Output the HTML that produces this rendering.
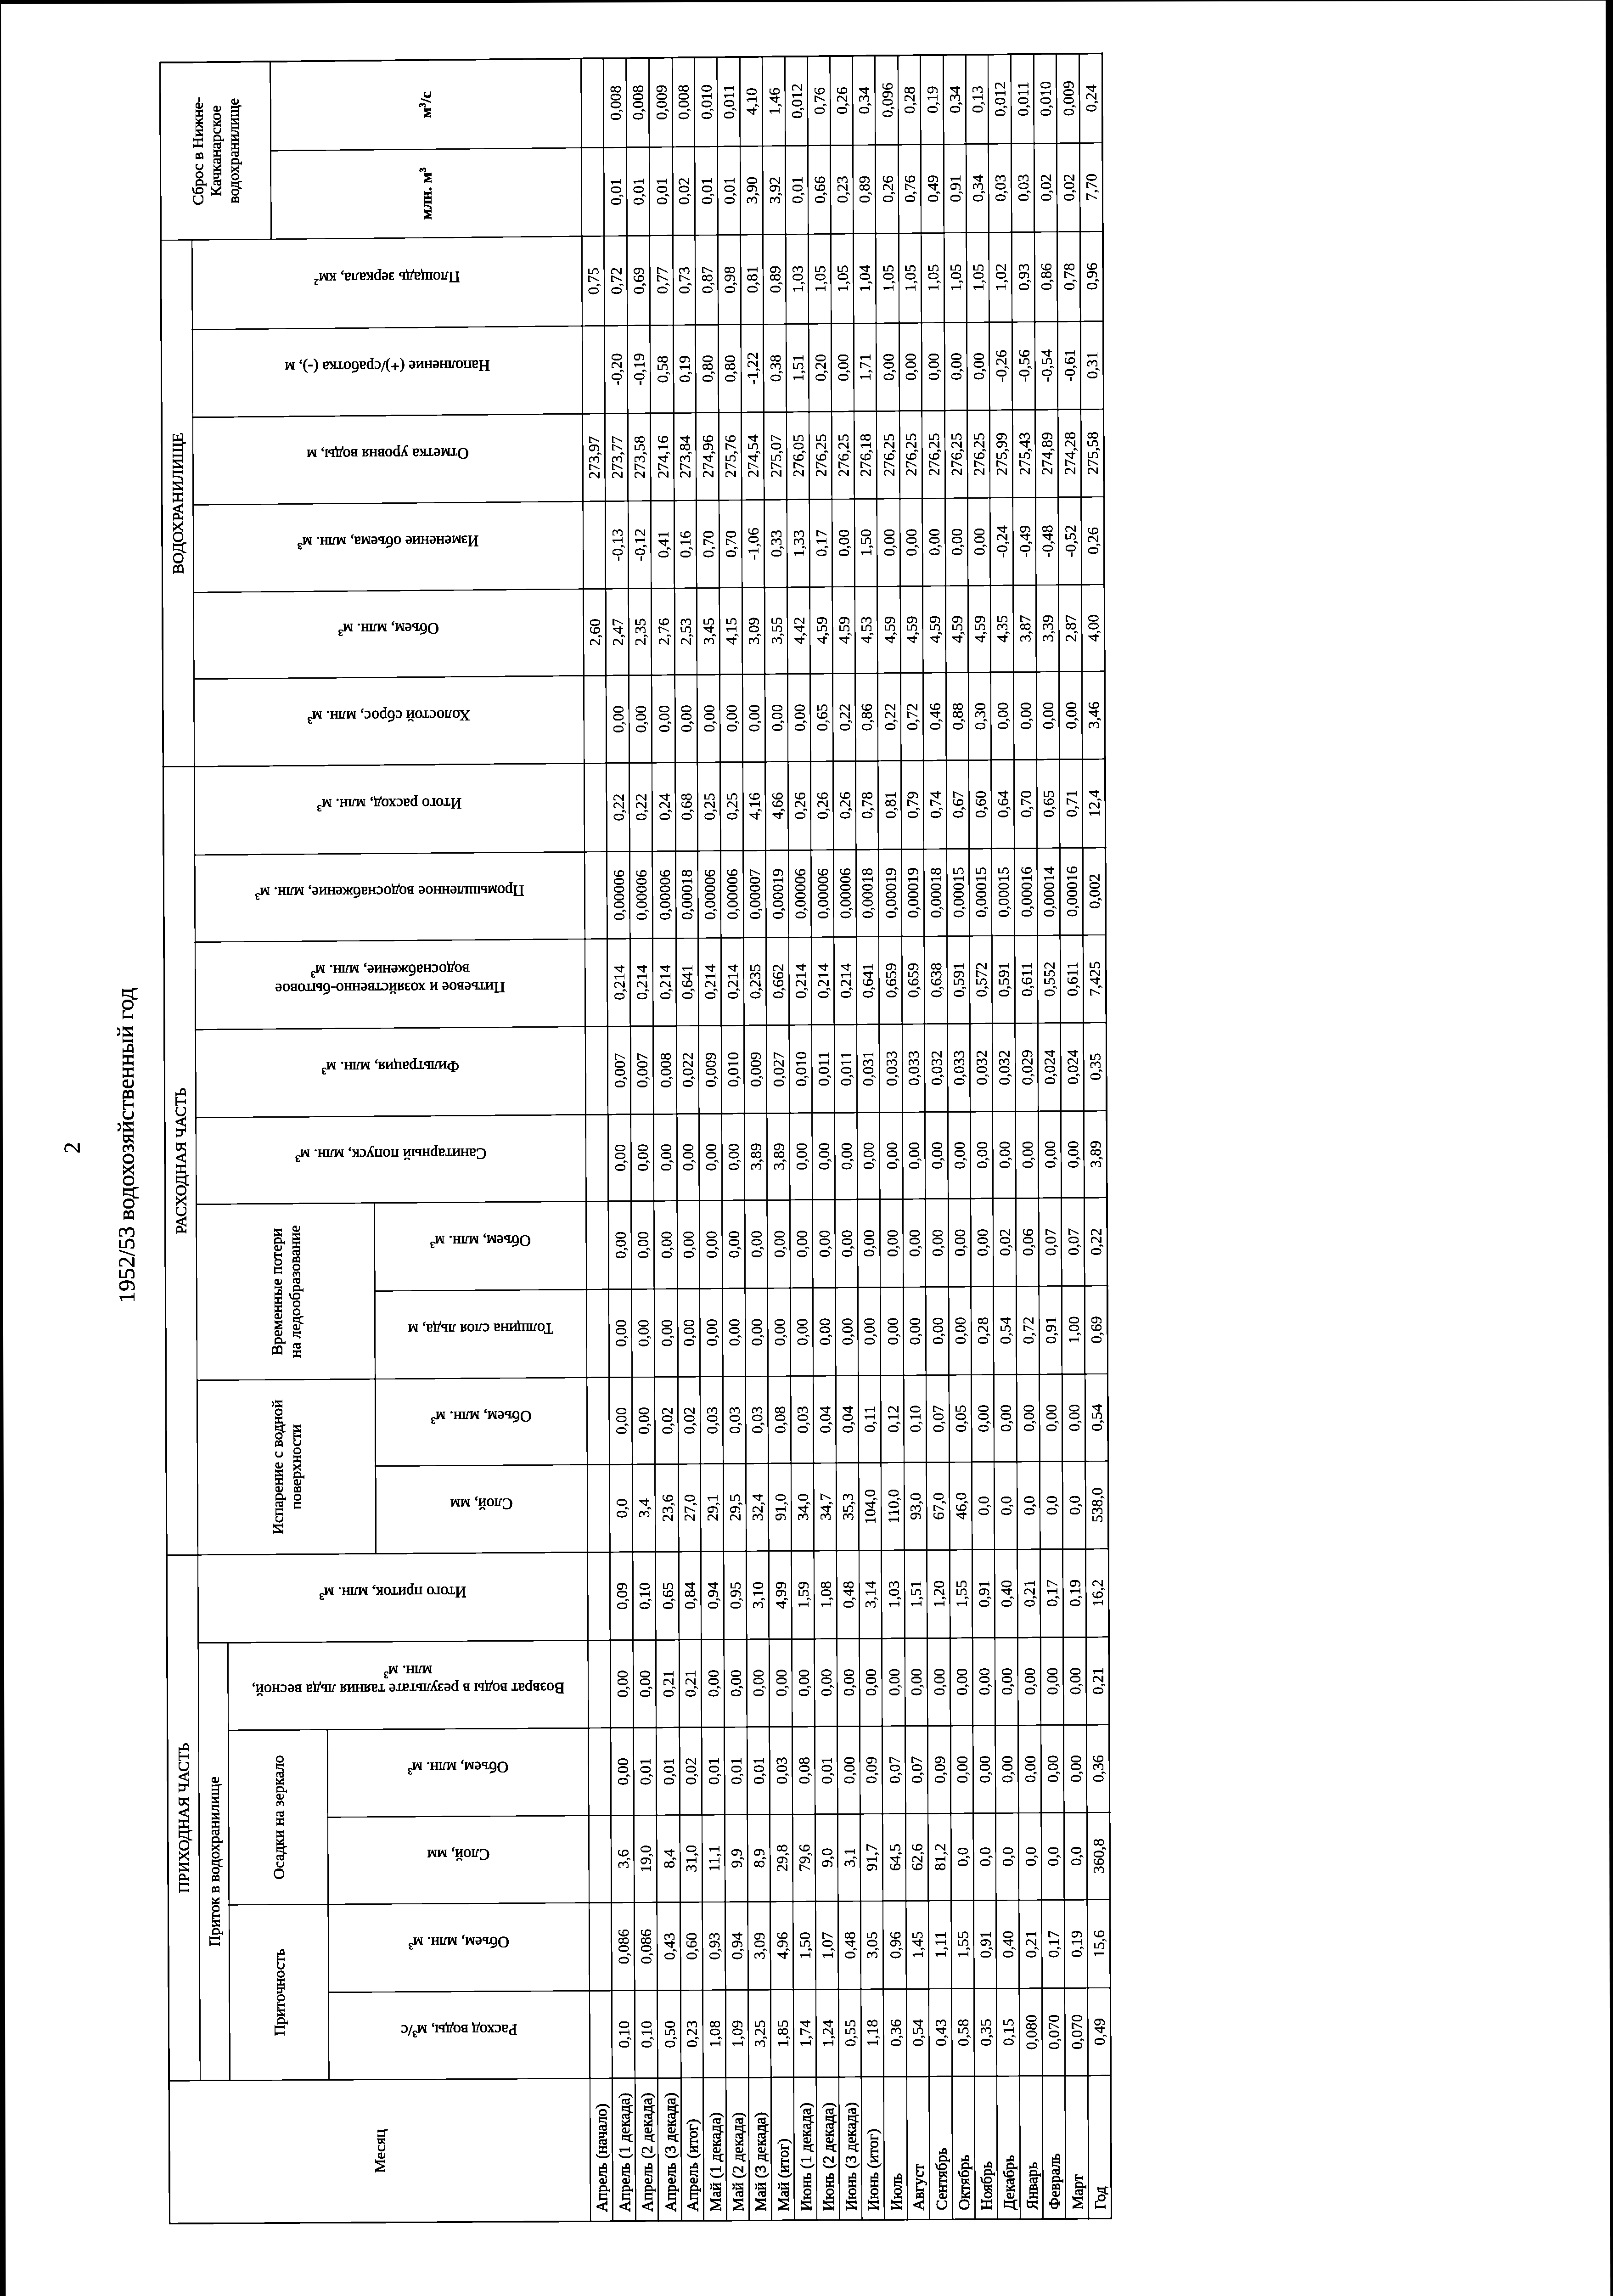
<!DOCTYPE html><html><head><meta charset="utf-8"><style>html,body{margin:0;padding:0;background:#fff;width:3513px;height:5040px;overflow:hidden;position:relative;font-family:"Liberation Serif",serif;}</style></head><body><svg width="0" height="0" style="position:absolute"><filter id="th" x="0" y="0" width="1" height="1" color-interpolation-filters="sRGB"><feComponentTransfer><feFuncA type="discrete" tableValues="0 0 0 0 0 0 0 0 1 1 1 1 1 1 1 1 1 1 1 1"/></feComponentTransfer></filter></svg><div style="position:absolute;left:0;top:0;width:3513px;height:5040px;filter:url(#th)"><svg width="5110" height="2452" viewBox="0 0 5110 2452" style="position:absolute;left:0;top:0;transform-origin:0 0;transform:matrix3d(-0.00448392221,-0.9988218256,0,-7.646596423e-08,0.9969414848,-0.009849639361,0,-9.395469201e-07,0,0,1,0,71.20453939,5043.580332,0,1)"><g fill="#000"><rect x="198.50" y="298.50" width="4713.00" height="3.00"/><rect x="198.50" y="2350.50" width="4713.00" height="3.00"/><rect x="4908.50" y="298.50" width="3.00" height="2055.00"/><rect x="198.50" y="298.50" width="3.00" height="2055.00"/><rect x="198.75" y="1216.84" width="4712.50" height="2.50"/><rect x="198.75" y="1265.35" width="4712.50" height="2.50"/><rect x="198.75" y="1315.06" width="4712.50" height="2.50"/><rect x="198.75" y="1364.57" width="4712.50" height="2.50"/><rect x="198.75" y="1415.37" width="4712.50" height="2.50"/><rect x="198.75" y="1463.56" width="4712.50" height="2.50"/><rect x="198.75" y="1513.06" width="4712.50" height="2.50"/><rect x="198.75" y="1562.54" width="4712.50" height="2.50"/><rect x="198.75" y="1611.33" width="4712.50" height="2.50"/><rect x="198.75" y="1660.81" width="4712.50" height="2.50"/><rect x="198.75" y="1709.88" width="4712.50" height="2.50"/><rect x="198.75" y="1758.95" width="4712.50" height="2.50"/><rect x="198.75" y="1807.91" width="4712.50" height="2.50"/><rect x="198.75" y="1856.67" width="4712.50" height="2.50"/><rect x="198.75" y="1906.83" width="4712.50" height="2.50"/><rect x="198.75" y="1955.58" width="4712.50" height="2.50"/><rect x="198.75" y="2005.43" width="4712.50" height="2.50"/><rect x="198.75" y="2054.07" width="4712.50" height="2.50"/><rect x="198.75" y="2102.81" width="4712.50" height="2.50"/><rect x="198.75" y="2152.54" width="4712.50" height="2.50"/><rect x="198.75" y="2201.97" width="4712.50" height="2.50"/><rect x="198.75" y="2251.39" width="4712.50" height="2.50"/><rect x="198.75" y="2301.21" width="4712.50" height="2.50"/><rect x="510.07" y="366.78" width="4014.28" height="2.50"/><rect x="4521.85" y="539.46" width="389.40" height="2.50"/><rect x="510.07" y="431.58" width="956.73" height="2.50"/><rect x="510.07" y="647.74" width="765.90" height="2.50"/><rect x="1656.13" y="755.46" width="766.75" height="2.50"/><rect x="4714.58" y="539.46" width="2.50" height="1813.79"/><rect x="4521.85" y="298.75" width="2.50" height="2054.50"/><rect x="4326.61" y="366.78" width="2.50" height="1986.47"/><rect x="4135.37" y="366.78" width="2.50" height="1986.47"/><rect x="3944.61" y="366.78" width="2.50" height="1986.47"/><rect x="3753.85" y="366.78" width="2.50" height="1986.47"/><rect x="3565.09" y="366.78" width="2.50" height="1986.47"/><rect x="3374.32" y="298.75" width="2.50" height="2054.50"/><rect x="3181.54" y="366.78" width="2.50" height="1986.47"/><rect x="2991.76" y="366.78" width="2.50" height="1986.47"/><rect x="2800.97" y="366.78" width="2.50" height="1986.47"/><rect x="2609.18" y="366.78" width="2.50" height="1986.47"/><rect x="2420.38" y="366.78" width="2.50" height="1986.47"/><rect x="2228.58" y="755.46" width="2.50" height="1597.79"/><rect x="2036.77" y="366.78" width="2.50" height="1986.47"/><rect x="1846.95" y="755.46" width="2.50" height="1597.79"/><rect x="1656.13" y="298.75" width="2.50" height="2054.50"/><rect x="1464.30" y="366.78" width="2.50" height="1986.47"/><rect x="1273.46" y="431.58" width="2.50" height="1921.67"/><rect x="1082.62" y="647.74" width="2.50" height="1705.51"/><rect x="892.78" y="431.58" width="2.50" height="1921.67"/><rect x="700.92" y="647.74" width="2.50" height="1705.51"/><rect x="510.07" y="298.75" width="2.50" height="2054.50"/></g><g fill="#000" stroke="#000" stroke-width="0.80" font-family="Liberation Serif, serif"><text x="4812.91" y="1303.81" font-size="34.0" text-anchor="middle" stroke-width="0.35">0,008</text><text x="4812.91" y="1353.32" font-size="34.0" text-anchor="middle" stroke-width="0.35">0,008</text><text x="4812.91" y="1404.12" font-size="34.0" text-anchor="middle" stroke-width="0.35">0,009</text><text x="4812.91" y="1452.31" font-size="34.0" text-anchor="middle" stroke-width="0.35">0,008</text><text x="4812.91" y="1501.81" font-size="34.0" text-anchor="middle" stroke-width="0.35">0,010</text><text x="4812.91" y="1551.29" font-size="34.0" text-anchor="middle" stroke-width="0.35">0,011</text><text x="4812.91" y="1600.08" font-size="34.0" text-anchor="middle" stroke-width="0.35">4,10</text><text x="4812.91" y="1649.56" font-size="34.0" text-anchor="middle" stroke-width="0.35">1,46</text><text x="4812.91" y="1698.63" font-size="34.0" text-anchor="middle" stroke-width="0.35">0,012</text><text x="4812.91" y="1747.70" font-size="34.0" text-anchor="middle" stroke-width="0.35">0,76</text><text x="4812.91" y="1796.66" font-size="34.0" text-anchor="middle" stroke-width="0.35">0,26</text><text x="4812.91" y="1845.42" font-size="34.0" text-anchor="middle" stroke-width="0.35">0,34</text><text x="4812.91" y="1895.58" font-size="34.0" text-anchor="middle" stroke-width="0.35">0,096</text><text x="4812.91" y="1944.33" font-size="34.0" text-anchor="middle" stroke-width="0.35">0,28</text><text x="4812.91" y="1994.18" font-size="34.0" text-anchor="middle" stroke-width="0.35">0,19</text><text x="4812.91" y="2042.82" font-size="34.0" text-anchor="middle" stroke-width="0.35">0,34</text><text x="4812.91" y="2091.56" font-size="34.0" text-anchor="middle" stroke-width="0.35">0,13</text><text x="4812.91" y="2141.29" font-size="34.0" text-anchor="middle" stroke-width="0.35">0,012</text><text x="4812.91" y="2190.72" font-size="34.0" text-anchor="middle" stroke-width="0.35">0,011</text><text x="4812.91" y="2240.14" font-size="34.0" text-anchor="middle" stroke-width="0.35">0,010</text><text x="4812.91" y="2289.96" font-size="34.0" text-anchor="middle" stroke-width="0.35">0,009</text><text x="4812.91" y="2339.50" font-size="34.0" text-anchor="middle" stroke-width="0.35">0,24</text><text x="4619.46" y="1303.81" font-size="34.0" text-anchor="middle" stroke-width="0.35">0,01</text><text x="4619.46" y="1353.32" font-size="34.0" text-anchor="middle" stroke-width="0.35">0,01</text><text x="4619.46" y="1404.12" font-size="34.0" text-anchor="middle" stroke-width="0.35">0,01</text><text x="4619.46" y="1452.31" font-size="34.0" text-anchor="middle" stroke-width="0.35">0,02</text><text x="4619.46" y="1501.81" font-size="34.0" text-anchor="middle" stroke-width="0.35">0,01</text><text x="4619.46" y="1551.29" font-size="34.0" text-anchor="middle" stroke-width="0.35">0,01</text><text x="4619.46" y="1600.08" font-size="34.0" text-anchor="middle" stroke-width="0.35">3,90</text><text x="4619.46" y="1649.56" font-size="34.0" text-anchor="middle" stroke-width="0.35">3,92</text><text x="4619.46" y="1698.63" font-size="34.0" text-anchor="middle" stroke-width="0.35">0,01</text><text x="4619.46" y="1747.70" font-size="34.0" text-anchor="middle" stroke-width="0.35">0,66</text><text x="4619.46" y="1796.66" font-size="34.0" text-anchor="middle" stroke-width="0.35">0,23</text><text x="4619.46" y="1845.42" font-size="34.0" text-anchor="middle" stroke-width="0.35">0,89</text><text x="4619.46" y="1895.58" font-size="34.0" text-anchor="middle" stroke-width="0.35">0,26</text><text x="4619.46" y="1944.33" font-size="34.0" text-anchor="middle" stroke-width="0.35">0,76</text><text x="4619.46" y="1994.18" font-size="34.0" text-anchor="middle" stroke-width="0.35">0,49</text><text x="4619.46" y="2042.82" font-size="34.0" text-anchor="middle" stroke-width="0.35">0,91</text><text x="4619.46" y="2091.56" font-size="34.0" text-anchor="middle" stroke-width="0.35">0,34</text><text x="4619.46" y="2141.29" font-size="34.0" text-anchor="middle" stroke-width="0.35">0,03</text><text x="4619.46" y="2190.72" font-size="34.0" text-anchor="middle" stroke-width="0.35">0,03</text><text x="4619.46" y="2240.14" font-size="34.0" text-anchor="middle" stroke-width="0.35">0,02</text><text x="4619.46" y="2289.96" font-size="34.0" text-anchor="middle" stroke-width="0.35">0,02</text><text x="4619.46" y="2339.50" font-size="34.0" text-anchor="middle" stroke-width="0.35">7,70</text><text x="4425.48" y="1254.10" font-size="34.0" text-anchor="middle" stroke-width="0.35">0,75</text><text x="4425.48" y="1303.81" font-size="34.0" text-anchor="middle" stroke-width="0.35">0,72</text><text x="4425.48" y="1353.32" font-size="34.0" text-anchor="middle" stroke-width="0.35">0,69</text><text x="4425.48" y="1404.12" font-size="34.0" text-anchor="middle" stroke-width="0.35">0,77</text><text x="4425.48" y="1452.31" font-size="34.0" text-anchor="middle" stroke-width="0.35">0,73</text><text x="4425.48" y="1501.81" font-size="34.0" text-anchor="middle" stroke-width="0.35">0,87</text><text x="4425.48" y="1551.29" font-size="34.0" text-anchor="middle" stroke-width="0.35">0,98</text><text x="4425.48" y="1600.08" font-size="34.0" text-anchor="middle" stroke-width="0.35">0,81</text><text x="4425.48" y="1649.56" font-size="34.0" text-anchor="middle" stroke-width="0.35">0,89</text><text x="4425.48" y="1698.63" font-size="34.0" text-anchor="middle" stroke-width="0.35">1,03</text><text x="4425.48" y="1747.70" font-size="34.0" text-anchor="middle" stroke-width="0.35">1,05</text><text x="4425.48" y="1796.66" font-size="34.0" text-anchor="middle" stroke-width="0.35">1,05</text><text x="4425.48" y="1845.42" font-size="34.0" text-anchor="middle" stroke-width="0.35">1,04</text><text x="4425.48" y="1895.58" font-size="34.0" text-anchor="middle" stroke-width="0.35">1,05</text><text x="4425.48" y="1944.33" font-size="34.0" text-anchor="middle" stroke-width="0.35">1,05</text><text x="4425.48" y="1994.18" font-size="34.0" text-anchor="middle" stroke-width="0.35">1,05</text><text x="4425.48" y="2042.82" font-size="34.0" text-anchor="middle" stroke-width="0.35">1,05</text><text x="4425.48" y="2091.56" font-size="34.0" text-anchor="middle" stroke-width="0.35">1,05</text><text x="4425.48" y="2141.29" font-size="34.0" text-anchor="middle" stroke-width="0.35">1,02</text><text x="4425.48" y="2190.72" font-size="34.0" text-anchor="middle" stroke-width="0.35">0,93</text><text x="4425.48" y="2240.14" font-size="34.0" text-anchor="middle" stroke-width="0.35">0,86</text><text x="4425.48" y="2289.96" font-size="34.0" text-anchor="middle" stroke-width="0.35">0,78</text><text x="4425.48" y="2339.50" font-size="34.0" text-anchor="middle" stroke-width="0.35">0,96</text><text x="4232.24" y="1303.81" font-size="34.0" text-anchor="middle" stroke-width="0.35">-0,20</text><text x="4232.24" y="1353.32" font-size="34.0" text-anchor="middle" stroke-width="0.35">-0,19</text><text x="4232.24" y="1404.12" font-size="34.0" text-anchor="middle" stroke-width="0.35">0,58</text><text x="4232.24" y="1452.31" font-size="34.0" text-anchor="middle" stroke-width="0.35">0,19</text><text x="4232.24" y="1501.81" font-size="34.0" text-anchor="middle" stroke-width="0.35">0,80</text><text x="4232.24" y="1551.29" font-size="34.0" text-anchor="middle" stroke-width="0.35">0,80</text><text x="4232.24" y="1600.08" font-size="34.0" text-anchor="middle" stroke-width="0.35">-1,22</text><text x="4232.24" y="1649.56" font-size="34.0" text-anchor="middle" stroke-width="0.35">0,38</text><text x="4232.24" y="1698.63" font-size="34.0" text-anchor="middle" stroke-width="0.35">1,51</text><text x="4232.24" y="1747.70" font-size="34.0" text-anchor="middle" stroke-width="0.35">0,20</text><text x="4232.24" y="1796.66" font-size="34.0" text-anchor="middle" stroke-width="0.35">0,00</text><text x="4232.24" y="1845.42" font-size="34.0" text-anchor="middle" stroke-width="0.35">1,71</text><text x="4232.24" y="1895.58" font-size="34.0" text-anchor="middle" stroke-width="0.35">0,00</text><text x="4232.24" y="1944.33" font-size="34.0" text-anchor="middle" stroke-width="0.35">0,00</text><text x="4232.24" y="1994.18" font-size="34.0" text-anchor="middle" stroke-width="0.35">0,00</text><text x="4232.24" y="2042.82" font-size="34.0" text-anchor="middle" stroke-width="0.35">0,00</text><text x="4232.24" y="2091.56" font-size="34.0" text-anchor="middle" stroke-width="0.35">0,00</text><text x="4232.24" y="2141.29" font-size="34.0" text-anchor="middle" stroke-width="0.35">-0,26</text><text x="4232.24" y="2190.72" font-size="34.0" text-anchor="middle" stroke-width="0.35">-0,56</text><text x="4232.24" y="2240.14" font-size="34.0" text-anchor="middle" stroke-width="0.35">-0,54</text><text x="4232.24" y="2289.96" font-size="34.0" text-anchor="middle" stroke-width="0.35">-0,61</text><text x="4232.24" y="2339.50" font-size="34.0" text-anchor="middle" stroke-width="0.35">0,31</text><text x="4041.24" y="1254.10" font-size="34.0" text-anchor="middle" stroke-width="0.35">273,97</text><text x="4041.24" y="1303.81" font-size="34.0" text-anchor="middle" stroke-width="0.35">273,77</text><text x="4041.24" y="1353.32" font-size="34.0" text-anchor="middle" stroke-width="0.35">273,58</text><text x="4041.24" y="1404.12" font-size="34.0" text-anchor="middle" stroke-width="0.35">274,16</text><text x="4041.24" y="1452.31" font-size="34.0" text-anchor="middle" stroke-width="0.35">273,84</text><text x="4041.24" y="1501.81" font-size="34.0" text-anchor="middle" stroke-width="0.35">274,96</text><text x="4041.24" y="1551.29" font-size="34.0" text-anchor="middle" stroke-width="0.35">275,76</text><text x="4041.24" y="1600.08" font-size="34.0" text-anchor="middle" stroke-width="0.35">274,54</text><text x="4041.24" y="1649.56" font-size="34.0" text-anchor="middle" stroke-width="0.35">275,07</text><text x="4041.24" y="1698.63" font-size="34.0" text-anchor="middle" stroke-width="0.35">276,05</text><text x="4041.24" y="1747.70" font-size="34.0" text-anchor="middle" stroke-width="0.35">276,25</text><text x="4041.24" y="1796.66" font-size="34.0" text-anchor="middle" stroke-width="0.35">276,25</text><text x="4041.24" y="1845.42" font-size="34.0" text-anchor="middle" stroke-width="0.35">276,18</text><text x="4041.24" y="1895.58" font-size="34.0" text-anchor="middle" stroke-width="0.35">276,25</text><text x="4041.24" y="1944.33" font-size="34.0" text-anchor="middle" stroke-width="0.35">276,25</text><text x="4041.24" y="1994.18" font-size="34.0" text-anchor="middle" stroke-width="0.35">276,25</text><text x="4041.24" y="2042.82" font-size="34.0" text-anchor="middle" stroke-width="0.35">276,25</text><text x="4041.24" y="2091.56" font-size="34.0" text-anchor="middle" stroke-width="0.35">276,25</text><text x="4041.24" y="2141.29" font-size="34.0" text-anchor="middle" stroke-width="0.35">275,99</text><text x="4041.24" y="2190.72" font-size="34.0" text-anchor="middle" stroke-width="0.35">275,43</text><text x="4041.24" y="2240.14" font-size="34.0" text-anchor="middle" stroke-width="0.35">274,89</text><text x="4041.24" y="2289.96" font-size="34.0" text-anchor="middle" stroke-width="0.35">274,28</text><text x="4041.24" y="2339.50" font-size="34.0" text-anchor="middle" stroke-width="0.35">275,58</text><text x="3850.48" y="1303.81" font-size="34.0" text-anchor="middle" stroke-width="0.35">-0,13</text><text x="3850.48" y="1353.32" font-size="34.0" text-anchor="middle" stroke-width="0.35">-0,12</text><text x="3850.48" y="1404.12" font-size="34.0" text-anchor="middle" stroke-width="0.35">0,41</text><text x="3850.48" y="1452.31" font-size="34.0" text-anchor="middle" stroke-width="0.35">0,16</text><text x="3850.48" y="1501.81" font-size="34.0" text-anchor="middle" stroke-width="0.35">0,70</text><text x="3850.48" y="1551.29" font-size="34.0" text-anchor="middle" stroke-width="0.35">0,70</text><text x="3850.48" y="1600.08" font-size="34.0" text-anchor="middle" stroke-width="0.35">-1,06</text><text x="3850.48" y="1649.56" font-size="34.0" text-anchor="middle" stroke-width="0.35">0,33</text><text x="3850.48" y="1698.63" font-size="34.0" text-anchor="middle" stroke-width="0.35">1,33</text><text x="3850.48" y="1747.70" font-size="34.0" text-anchor="middle" stroke-width="0.35">0,17</text><text x="3850.48" y="1796.66" font-size="34.0" text-anchor="middle" stroke-width="0.35">0,00</text><text x="3850.48" y="1845.42" font-size="34.0" text-anchor="middle" stroke-width="0.35">1,50</text><text x="3850.48" y="1895.58" font-size="34.0" text-anchor="middle" stroke-width="0.35">0,00</text><text x="3850.48" y="1944.33" font-size="34.0" text-anchor="middle" stroke-width="0.35">0,00</text><text x="3850.48" y="1994.18" font-size="34.0" text-anchor="middle" stroke-width="0.35">0,00</text><text x="3850.48" y="2042.82" font-size="34.0" text-anchor="middle" stroke-width="0.35">0,00</text><text x="3850.48" y="2091.56" font-size="34.0" text-anchor="middle" stroke-width="0.35">0,00</text><text x="3850.48" y="2141.29" font-size="34.0" text-anchor="middle" stroke-width="0.35">-0,24</text><text x="3850.48" y="2190.72" font-size="34.0" text-anchor="middle" stroke-width="0.35">-0,49</text><text x="3850.48" y="2240.14" font-size="34.0" text-anchor="middle" stroke-width="0.35">-0,48</text><text x="3850.48" y="2289.96" font-size="34.0" text-anchor="middle" stroke-width="0.35">-0,52</text><text x="3850.48" y="2339.50" font-size="34.0" text-anchor="middle" stroke-width="0.35">0,26</text><text x="3660.72" y="1254.10" font-size="34.0" text-anchor="middle" stroke-width="0.35">2,60</text><text x="3660.72" y="1303.81" font-size="34.0" text-anchor="middle" stroke-width="0.35">2,47</text><text x="3660.72" y="1353.32" font-size="34.0" text-anchor="middle" stroke-width="0.35">2,35</text><text x="3660.72" y="1404.12" font-size="34.0" text-anchor="middle" stroke-width="0.35">2,76</text><text x="3660.72" y="1452.31" font-size="34.0" text-anchor="middle" stroke-width="0.35">2,53</text><text x="3660.72" y="1501.81" font-size="34.0" text-anchor="middle" stroke-width="0.35">3,45</text><text x="3660.72" y="1551.29" font-size="34.0" text-anchor="middle" stroke-width="0.35">4,15</text><text x="3660.72" y="1600.08" font-size="34.0" text-anchor="middle" stroke-width="0.35">3,09</text><text x="3660.72" y="1649.56" font-size="34.0" text-anchor="middle" stroke-width="0.35">3,55</text><text x="3660.72" y="1698.63" font-size="34.0" text-anchor="middle" stroke-width="0.35">4,42</text><text x="3660.72" y="1747.70" font-size="34.0" text-anchor="middle" stroke-width="0.35">4,59</text><text x="3660.72" y="1796.66" font-size="34.0" text-anchor="middle" stroke-width="0.35">4,59</text><text x="3660.72" y="1845.42" font-size="34.0" text-anchor="middle" stroke-width="0.35">4,53</text><text x="3660.72" y="1895.58" font-size="34.0" text-anchor="middle" stroke-width="0.35">4,59</text><text x="3660.72" y="1944.33" font-size="34.0" text-anchor="middle" stroke-width="0.35">4,59</text><text x="3660.72" y="1994.18" font-size="34.0" text-anchor="middle" stroke-width="0.35">4,59</text><text x="3660.72" y="2042.82" font-size="34.0" text-anchor="middle" stroke-width="0.35">4,59</text><text x="3660.72" y="2091.56" font-size="34.0" text-anchor="middle" stroke-width="0.35">4,59</text><text x="3660.72" y="2141.29" font-size="34.0" text-anchor="middle" stroke-width="0.35">4,35</text><text x="3660.72" y="2190.72" font-size="34.0" text-anchor="middle" stroke-width="0.35">3,87</text><text x="3660.72" y="2240.14" font-size="34.0" text-anchor="middle" stroke-width="0.35">3,39</text><text x="3660.72" y="2289.96" font-size="34.0" text-anchor="middle" stroke-width="0.35">2,87</text><text x="3660.72" y="2339.50" font-size="34.0" text-anchor="middle" stroke-width="0.35">4,00</text><text x="3470.95" y="1303.81" font-size="34.0" text-anchor="middle" stroke-width="0.35">0,00</text><text x="3470.95" y="1353.32" font-size="34.0" text-anchor="middle" stroke-width="0.35">0,00</text><text x="3470.95" y="1404.12" font-size="34.0" text-anchor="middle" stroke-width="0.35">0,00</text><text x="3470.95" y="1452.31" font-size="34.0" text-anchor="middle" stroke-width="0.35">0,00</text><text x="3470.95" y="1501.81" font-size="34.0" text-anchor="middle" stroke-width="0.35">0,00</text><text x="3470.95" y="1551.29" font-size="34.0" text-anchor="middle" stroke-width="0.35">0,00</text><text x="3470.95" y="1600.08" font-size="34.0" text-anchor="middle" stroke-width="0.35">0,00</text><text x="3470.95" y="1649.56" font-size="34.0" text-anchor="middle" stroke-width="0.35">0,00</text><text x="3470.95" y="1698.63" font-size="34.0" text-anchor="middle" stroke-width="0.35">0,00</text><text x="3470.95" y="1747.70" font-size="34.0" text-anchor="middle" stroke-width="0.35">0,65</text><text x="3470.95" y="1796.66" font-size="34.0" text-anchor="middle" stroke-width="0.35">0,22</text><text x="3470.95" y="1845.42" font-size="34.0" text-anchor="middle" stroke-width="0.35">0,86</text><text x="3470.95" y="1895.58" font-size="34.0" text-anchor="middle" stroke-width="0.35">0,22</text><text x="3470.95" y="1944.33" font-size="34.0" text-anchor="middle" stroke-width="0.35">0,72</text><text x="3470.95" y="1994.18" font-size="34.0" text-anchor="middle" stroke-width="0.35">0,46</text><text x="3470.95" y="2042.82" font-size="34.0" text-anchor="middle" stroke-width="0.35">0,88</text><text x="3470.95" y="2091.56" font-size="34.0" text-anchor="middle" stroke-width="0.35">0,30</text><text x="3470.95" y="2141.29" font-size="34.0" text-anchor="middle" stroke-width="0.35">0,00</text><text x="3470.95" y="2190.72" font-size="34.0" text-anchor="middle" stroke-width="0.35">0,00</text><text x="3470.95" y="2240.14" font-size="34.0" text-anchor="middle" stroke-width="0.35">0,00</text><text x="3470.95" y="2289.96" font-size="34.0" text-anchor="middle" stroke-width="0.35">0,00</text><text x="3470.95" y="2339.50" font-size="34.0" text-anchor="middle" stroke-width="0.35">3,46</text><text x="3279.18" y="1303.81" font-size="34.0" text-anchor="middle" stroke-width="0.35">0,22</text><text x="3279.18" y="1353.32" font-size="34.0" text-anchor="middle" stroke-width="0.35">0,22</text><text x="3279.18" y="1404.12" font-size="34.0" text-anchor="middle" stroke-width="0.35">0,24</text><text x="3279.18" y="1452.31" font-size="34.0" text-anchor="middle" stroke-width="0.35">0,68</text><text x="3279.18" y="1501.81" font-size="34.0" text-anchor="middle" stroke-width="0.35">0,25</text><text x="3279.18" y="1551.29" font-size="34.0" text-anchor="middle" stroke-width="0.35">0,25</text><text x="3279.18" y="1600.08" font-size="34.0" text-anchor="middle" stroke-width="0.35">4,16</text><text x="3279.18" y="1649.56" font-size="34.0" text-anchor="middle" stroke-width="0.35">4,66</text><text x="3279.18" y="1698.63" font-size="34.0" text-anchor="middle" stroke-width="0.35">0,26</text><text x="3279.18" y="1747.70" font-size="34.0" text-anchor="middle" stroke-width="0.35">0,26</text><text x="3279.18" y="1796.66" font-size="34.0" text-anchor="middle" stroke-width="0.35">0,26</text><text x="3279.18" y="1845.42" font-size="34.0" text-anchor="middle" stroke-width="0.35">0,78</text><text x="3279.18" y="1895.58" font-size="34.0" text-anchor="middle" stroke-width="0.35">0,81</text><text x="3279.18" y="1944.33" font-size="34.0" text-anchor="middle" stroke-width="0.35">0,79</text><text x="3279.18" y="1994.18" font-size="34.0" text-anchor="middle" stroke-width="0.35">0,74</text><text x="3279.18" y="2042.82" font-size="34.0" text-anchor="middle" stroke-width="0.35">0,67</text><text x="3279.18" y="2091.56" font-size="34.0" text-anchor="middle" stroke-width="0.35">0,60</text><text x="3279.18" y="2141.29" font-size="34.0" text-anchor="middle" stroke-width="0.35">0,64</text><text x="3279.18" y="2190.72" font-size="34.0" text-anchor="middle" stroke-width="0.35">0,70</text><text x="3279.18" y="2240.14" font-size="34.0" text-anchor="middle" stroke-width="0.35">0,65</text><text x="3279.18" y="2289.96" font-size="34.0" text-anchor="middle" stroke-width="0.35">0,71</text><text x="3279.18" y="2339.50" font-size="34.0" text-anchor="middle" stroke-width="0.35">12,4</text><text x="3087.90" y="1303.81" font-size="34.0" text-anchor="middle" stroke-width="0.35">0,00006</text><text x="3087.90" y="1353.32" font-size="34.0" text-anchor="middle" stroke-width="0.35">0,00006</text><text x="3087.90" y="1404.12" font-size="34.0" text-anchor="middle" stroke-width="0.35">0,00006</text><text x="3087.90" y="1452.31" font-size="34.0" text-anchor="middle" stroke-width="0.35">0,00018</text><text x="3087.90" y="1501.81" font-size="34.0" text-anchor="middle" stroke-width="0.35">0,00006</text><text x="3087.90" y="1551.29" font-size="34.0" text-anchor="middle" stroke-width="0.35">0,00006</text><text x="3087.90" y="1600.08" font-size="34.0" text-anchor="middle" stroke-width="0.35">0,00007</text><text x="3087.90" y="1649.56" font-size="34.0" text-anchor="middle" stroke-width="0.35">0,00019</text><text x="3087.90" y="1698.63" font-size="34.0" text-anchor="middle" stroke-width="0.35">0,00006</text><text x="3087.90" y="1747.70" font-size="34.0" text-anchor="middle" stroke-width="0.35">0,00006</text><text x="3087.90" y="1796.66" font-size="34.0" text-anchor="middle" stroke-width="0.35">0,00006</text><text x="3087.90" y="1845.42" font-size="34.0" text-anchor="middle" stroke-width="0.35">0,00018</text><text x="3087.90" y="1895.58" font-size="34.0" text-anchor="middle" stroke-width="0.35">0,00019</text><text x="3087.90" y="1944.33" font-size="34.0" text-anchor="middle" stroke-width="0.35">0,00019</text><text x="3087.90" y="1994.18" font-size="34.0" text-anchor="middle" stroke-width="0.35">0,00018</text><text x="3087.90" y="2042.82" font-size="34.0" text-anchor="middle" stroke-width="0.35">0,00015</text><text x="3087.90" y="2091.56" font-size="34.0" text-anchor="middle" stroke-width="0.35">0,00015</text><text x="3087.90" y="2141.29" font-size="34.0" text-anchor="middle" stroke-width="0.35">0,00015</text><text x="3087.90" y="2190.72" font-size="34.0" text-anchor="middle" stroke-width="0.35">0,00016</text><text x="3087.90" y="2240.14" font-size="34.0" text-anchor="middle" stroke-width="0.35">0,00014</text><text x="3087.90" y="2289.96" font-size="34.0" text-anchor="middle" stroke-width="0.35">0,00016</text><text x="3087.90" y="2339.50" font-size="34.0" text-anchor="middle" stroke-width="0.35">0,002</text><text x="2897.62" y="1303.81" font-size="34.0" text-anchor="middle" stroke-width="0.35">0,214</text><text x="2897.62" y="1353.32" font-size="34.0" text-anchor="middle" stroke-width="0.35">0,214</text><text x="2897.62" y="1404.12" font-size="34.0" text-anchor="middle" stroke-width="0.35">0,214</text><text x="2897.62" y="1452.31" font-size="34.0" text-anchor="middle" stroke-width="0.35">0,641</text><text x="2897.62" y="1501.81" font-size="34.0" text-anchor="middle" stroke-width="0.35">0,214</text><text x="2897.62" y="1551.29" font-size="34.0" text-anchor="middle" stroke-width="0.35">0,214</text><text x="2897.62" y="1600.08" font-size="34.0" text-anchor="middle" stroke-width="0.35">0,235</text><text x="2897.62" y="1649.56" font-size="34.0" text-anchor="middle" stroke-width="0.35">0,662</text><text x="2897.62" y="1698.63" font-size="34.0" text-anchor="middle" stroke-width="0.35">0,214</text><text x="2897.62" y="1747.70" font-size="34.0" text-anchor="middle" stroke-width="0.35">0,214</text><text x="2897.62" y="1796.66" font-size="34.0" text-anchor="middle" stroke-width="0.35">0,214</text><text x="2897.62" y="1845.42" font-size="34.0" text-anchor="middle" stroke-width="0.35">0,641</text><text x="2897.62" y="1895.58" font-size="34.0" text-anchor="middle" stroke-width="0.35">0,659</text><text x="2897.62" y="1944.33" font-size="34.0" text-anchor="middle" stroke-width="0.35">0,659</text><text x="2897.62" y="1994.18" font-size="34.0" text-anchor="middle" stroke-width="0.35">0,638</text><text x="2897.62" y="2042.82" font-size="34.0" text-anchor="middle" stroke-width="0.35">0,591</text><text x="2897.62" y="2091.56" font-size="34.0" text-anchor="middle" stroke-width="0.35">0,572</text><text x="2897.62" y="2141.29" font-size="34.0" text-anchor="middle" stroke-width="0.35">0,591</text><text x="2897.62" y="2190.72" font-size="34.0" text-anchor="middle" stroke-width="0.35">0,611</text><text x="2897.62" y="2240.14" font-size="34.0" text-anchor="middle" stroke-width="0.35">0,552</text><text x="2897.62" y="2289.96" font-size="34.0" text-anchor="middle" stroke-width="0.35">0,611</text><text x="2897.62" y="2339.50" font-size="34.0" text-anchor="middle" stroke-width="0.35">7,425</text><text x="2706.33" y="1303.81" font-size="34.0" text-anchor="middle" stroke-width="0.35">0,007</text><text x="2706.33" y="1353.32" font-size="34.0" text-anchor="middle" stroke-width="0.35">0,007</text><text x="2706.33" y="1404.12" font-size="34.0" text-anchor="middle" stroke-width="0.35">0,008</text><text x="2706.33" y="1452.31" font-size="34.0" text-anchor="middle" stroke-width="0.35">0,022</text><text x="2706.33" y="1501.81" font-size="34.0" text-anchor="middle" stroke-width="0.35">0,009</text><text x="2706.33" y="1551.29" font-size="34.0" text-anchor="middle" stroke-width="0.35">0,010</text><text x="2706.33" y="1600.08" font-size="34.0" text-anchor="middle" stroke-width="0.35">0,009</text><text x="2706.33" y="1649.56" font-size="34.0" text-anchor="middle" stroke-width="0.35">0,027</text><text x="2706.33" y="1698.63" font-size="34.0" text-anchor="middle" stroke-width="0.35">0,010</text><text x="2706.33" y="1747.70" font-size="34.0" text-anchor="middle" stroke-width="0.35">0,011</text><text x="2706.33" y="1796.66" font-size="34.0" text-anchor="middle" stroke-width="0.35">0,011</text><text x="2706.33" y="1845.42" font-size="34.0" text-anchor="middle" stroke-width="0.35">0,031</text><text x="2706.33" y="1895.58" font-size="34.0" text-anchor="middle" stroke-width="0.35">0,033</text><text x="2706.33" y="1944.33" font-size="34.0" text-anchor="middle" stroke-width="0.35">0,033</text><text x="2706.33" y="1994.18" font-size="34.0" text-anchor="middle" stroke-width="0.35">0,032</text><text x="2706.33" y="2042.82" font-size="34.0" text-anchor="middle" stroke-width="0.35">0,033</text><text x="2706.33" y="2091.56" font-size="34.0" text-anchor="middle" stroke-width="0.35">0,032</text><text x="2706.33" y="2141.29" font-size="34.0" text-anchor="middle" stroke-width="0.35">0,032</text><text x="2706.33" y="2190.72" font-size="34.0" text-anchor="middle" stroke-width="0.35">0,029</text><text x="2706.33" y="2240.14" font-size="34.0" text-anchor="middle" stroke-width="0.35">0,024</text><text x="2706.33" y="2289.96" font-size="34.0" text-anchor="middle" stroke-width="0.35">0,024</text><text x="2706.33" y="2339.50" font-size="34.0" text-anchor="middle" stroke-width="0.35">0,35</text><text x="2516.03" y="1303.81" font-size="34.0" text-anchor="middle" stroke-width="0.35">0,00</text><text x="2516.03" y="1353.32" font-size="34.0" text-anchor="middle" stroke-width="0.35">0,00</text><text x="2516.03" y="1404.12" font-size="34.0" text-anchor="middle" stroke-width="0.35">0,00</text><text x="2516.03" y="1452.31" font-size="34.0" text-anchor="middle" stroke-width="0.35">0,00</text><text x="2516.03" y="1501.81" font-size="34.0" text-anchor="middle" stroke-width="0.35">0,00</text><text x="2516.03" y="1551.29" font-size="34.0" text-anchor="middle" stroke-width="0.35">0,00</text><text x="2516.03" y="1600.08" font-size="34.0" text-anchor="middle" stroke-width="0.35">3,89</text><text x="2516.03" y="1649.56" font-size="34.0" text-anchor="middle" stroke-width="0.35">3,89</text><text x="2516.03" y="1698.63" font-size="34.0" text-anchor="middle" stroke-width="0.35">0,00</text><text x="2516.03" y="1747.70" font-size="34.0" text-anchor="middle" stroke-width="0.35">0,00</text><text x="2516.03" y="1796.66" font-size="34.0" text-anchor="middle" stroke-width="0.35">0,00</text><text x="2516.03" y="1845.42" font-size="34.0" text-anchor="middle" stroke-width="0.35">0,00</text><text x="2516.03" y="1895.58" font-size="34.0" text-anchor="middle" stroke-width="0.35">0,00</text><text x="2516.03" y="1944.33" font-size="34.0" text-anchor="middle" stroke-width="0.35">0,00</text><text x="2516.03" y="1994.18" font-size="34.0" text-anchor="middle" stroke-width="0.35">0,00</text><text x="2516.03" y="2042.82" font-size="34.0" text-anchor="middle" stroke-width="0.35">0,00</text><text x="2516.03" y="2091.56" font-size="34.0" text-anchor="middle" stroke-width="0.35">0,00</text><text x="2516.03" y="2141.29" font-size="34.0" text-anchor="middle" stroke-width="0.35">0,00</text><text x="2516.03" y="2190.72" font-size="34.0" text-anchor="middle" stroke-width="0.35">0,00</text><text x="2516.03" y="2240.14" font-size="34.0" text-anchor="middle" stroke-width="0.35">0,00</text><text x="2516.03" y="2289.96" font-size="34.0" text-anchor="middle" stroke-width="0.35">0,00</text><text x="2516.03" y="2339.50" font-size="34.0" text-anchor="middle" stroke-width="0.35">3,89</text><text x="2325.73" y="1303.81" font-size="34.0" text-anchor="middle" stroke-width="0.35">0,00</text><text x="2325.73" y="1353.32" font-size="34.0" text-anchor="middle" stroke-width="0.35">0,00</text><text x="2325.73" y="1404.12" font-size="34.0" text-anchor="middle" stroke-width="0.35">0,00</text><text x="2325.73" y="1452.31" font-size="34.0" text-anchor="middle" stroke-width="0.35">0,00</text><text x="2325.73" y="1501.81" font-size="34.0" text-anchor="middle" stroke-width="0.35">0,00</text><text x="2325.73" y="1551.29" font-size="34.0" text-anchor="middle" stroke-width="0.35">0,00</text><text x="2325.73" y="1600.08" font-size="34.0" text-anchor="middle" stroke-width="0.35">0,00</text><text x="2325.73" y="1649.56" font-size="34.0" text-anchor="middle" stroke-width="0.35">0,00</text><text x="2325.73" y="1698.63" font-size="34.0" text-anchor="middle" stroke-width="0.35">0,00</text><text x="2325.73" y="1747.70" font-size="34.0" text-anchor="middle" stroke-width="0.35">0,00</text><text x="2325.73" y="1796.66" font-size="34.0" text-anchor="middle" stroke-width="0.35">0,00</text><text x="2325.73" y="1845.42" font-size="34.0" text-anchor="middle" stroke-width="0.35">0,00</text><text x="2325.73" y="1895.58" font-size="34.0" text-anchor="middle" stroke-width="0.35">0,00</text><text x="2325.73" y="1944.33" font-size="34.0" text-anchor="middle" stroke-width="0.35">0,00</text><text x="2325.73" y="1994.18" font-size="34.0" text-anchor="middle" stroke-width="0.35">0,00</text><text x="2325.73" y="2042.82" font-size="34.0" text-anchor="middle" stroke-width="0.35">0,00</text><text x="2325.73" y="2091.56" font-size="34.0" text-anchor="middle" stroke-width="0.35">0,00</text><text x="2325.73" y="2141.29" font-size="34.0" text-anchor="middle" stroke-width="0.35">0,02</text><text x="2325.73" y="2190.72" font-size="34.0" text-anchor="middle" stroke-width="0.35">0,06</text><text x="2325.73" y="2240.14" font-size="34.0" text-anchor="middle" stroke-width="0.35">0,07</text><text x="2325.73" y="2289.96" font-size="34.0" text-anchor="middle" stroke-width="0.35">0,07</text><text x="2325.73" y="2339.50" font-size="34.0" text-anchor="middle" stroke-width="0.35">0,22</text><text x="2133.92" y="1303.81" font-size="34.0" text-anchor="middle" stroke-width="0.35">0,00</text><text x="2133.92" y="1353.32" font-size="34.0" text-anchor="middle" stroke-width="0.35">0,00</text><text x="2133.92" y="1404.12" font-size="34.0" text-anchor="middle" stroke-width="0.35">0,00</text><text x="2133.92" y="1452.31" font-size="34.0" text-anchor="middle" stroke-width="0.35">0,00</text><text x="2133.92" y="1501.81" font-size="34.0" text-anchor="middle" stroke-width="0.35">0,00</text><text x="2133.92" y="1551.29" font-size="34.0" text-anchor="middle" stroke-width="0.35">0,00</text><text x="2133.92" y="1600.08" font-size="34.0" text-anchor="middle" stroke-width="0.35">0,00</text><text x="2133.92" y="1649.56" font-size="34.0" text-anchor="middle" stroke-width="0.35">0,00</text><text x="2133.92" y="1698.63" font-size="34.0" text-anchor="middle" stroke-width="0.35">0,00</text><text x="2133.92" y="1747.70" font-size="34.0" text-anchor="middle" stroke-width="0.35">0,00</text><text x="2133.92" y="1796.66" font-size="34.0" text-anchor="middle" stroke-width="0.35">0,00</text><text x="2133.92" y="1845.42" font-size="34.0" text-anchor="middle" stroke-width="0.35">0,00</text><text x="2133.92" y="1895.58" font-size="34.0" text-anchor="middle" stroke-width="0.35">0,00</text><text x="2133.92" y="1944.33" font-size="34.0" text-anchor="middle" stroke-width="0.35">0,00</text><text x="2133.92" y="1994.18" font-size="34.0" text-anchor="middle" stroke-width="0.35">0,00</text><text x="2133.92" y="2042.82" font-size="34.0" text-anchor="middle" stroke-width="0.35">0,00</text><text x="2133.92" y="2091.56" font-size="34.0" text-anchor="middle" stroke-width="0.35">0,28</text><text x="2133.92" y="2141.29" font-size="34.0" text-anchor="middle" stroke-width="0.35">0,54</text><text x="2133.92" y="2190.72" font-size="34.0" text-anchor="middle" stroke-width="0.35">0,72</text><text x="2133.92" y="2240.14" font-size="34.0" text-anchor="middle" stroke-width="0.35">0,91</text><text x="2133.92" y="2289.96" font-size="34.0" text-anchor="middle" stroke-width="0.35">1,00</text><text x="2133.92" y="2339.50" font-size="34.0" text-anchor="middle" stroke-width="0.35">0,69</text><text x="1943.11" y="1303.81" font-size="34.0" text-anchor="middle" stroke-width="0.35">0,00</text><text x="1943.11" y="1353.32" font-size="34.0" text-anchor="middle" stroke-width="0.35">0,00</text><text x="1943.11" y="1404.12" font-size="34.0" text-anchor="middle" stroke-width="0.35">0,02</text><text x="1943.11" y="1452.31" font-size="34.0" text-anchor="middle" stroke-width="0.35">0,02</text><text x="1943.11" y="1501.81" font-size="34.0" text-anchor="middle" stroke-width="0.35">0,03</text><text x="1943.11" y="1551.29" font-size="34.0" text-anchor="middle" stroke-width="0.35">0,03</text><text x="1943.11" y="1600.08" font-size="34.0" text-anchor="middle" stroke-width="0.35">0,03</text><text x="1943.11" y="1649.56" font-size="34.0" text-anchor="middle" stroke-width="0.35">0,08</text><text x="1943.11" y="1698.63" font-size="34.0" text-anchor="middle" stroke-width="0.35">0,03</text><text x="1943.11" y="1747.70" font-size="34.0" text-anchor="middle" stroke-width="0.35">0,04</text><text x="1943.11" y="1796.66" font-size="34.0" text-anchor="middle" stroke-width="0.35">0,04</text><text x="1943.11" y="1845.42" font-size="34.0" text-anchor="middle" stroke-width="0.35">0,11</text><text x="1943.11" y="1895.58" font-size="34.0" text-anchor="middle" stroke-width="0.35">0,12</text><text x="1943.11" y="1944.33" font-size="34.0" text-anchor="middle" stroke-width="0.35">0,10</text><text x="1943.11" y="1994.18" font-size="34.0" text-anchor="middle" stroke-width="0.35">0,07</text><text x="1943.11" y="2042.82" font-size="34.0" text-anchor="middle" stroke-width="0.35">0,05</text><text x="1943.11" y="2091.56" font-size="34.0" text-anchor="middle" stroke-width="0.35">0,00</text><text x="1943.11" y="2141.29" font-size="34.0" text-anchor="middle" stroke-width="0.35">0,00</text><text x="1943.11" y="2190.72" font-size="34.0" text-anchor="middle" stroke-width="0.35">0,00</text><text x="1943.11" y="2240.14" font-size="34.0" text-anchor="middle" stroke-width="0.35">0,00</text><text x="1943.11" y="2289.96" font-size="34.0" text-anchor="middle" stroke-width="0.35">0,00</text><text x="1943.11" y="2339.50" font-size="34.0" text-anchor="middle" stroke-width="0.35">0,54</text><text x="1752.79" y="1303.81" font-size="34.0" text-anchor="middle" stroke-width="0.35">0,0</text><text x="1752.79" y="1353.32" font-size="34.0" text-anchor="middle" stroke-width="0.35">3,4</text><text x="1752.79" y="1404.12" font-size="34.0" text-anchor="middle" stroke-width="0.35">23,6</text><text x="1752.79" y="1452.31" font-size="34.0" text-anchor="middle" stroke-width="0.35">27,0</text><text x="1752.79" y="1501.81" font-size="34.0" text-anchor="middle" stroke-width="0.35">29,1</text><text x="1752.79" y="1551.29" font-size="34.0" text-anchor="middle" stroke-width="0.35">29,5</text><text x="1752.79" y="1600.08" font-size="34.0" text-anchor="middle" stroke-width="0.35">32,4</text><text x="1752.79" y="1649.56" font-size="34.0" text-anchor="middle" stroke-width="0.35">91,0</text><text x="1752.79" y="1698.63" font-size="34.0" text-anchor="middle" stroke-width="0.35">34,0</text><text x="1752.79" y="1747.70" font-size="34.0" text-anchor="middle" stroke-width="0.35">34,7</text><text x="1752.79" y="1796.66" font-size="34.0" text-anchor="middle" stroke-width="0.35">35,3</text><text x="1752.79" y="1845.42" font-size="34.0" text-anchor="middle" stroke-width="0.35">104,0</text><text x="1752.79" y="1895.58" font-size="34.0" text-anchor="middle" stroke-width="0.35">110,0</text><text x="1752.79" y="1944.33" font-size="34.0" text-anchor="middle" stroke-width="0.35">93,0</text><text x="1752.79" y="1994.18" font-size="34.0" text-anchor="middle" stroke-width="0.35">67,0</text><text x="1752.79" y="2042.82" font-size="34.0" text-anchor="middle" stroke-width="0.35">46,0</text><text x="1752.79" y="2091.56" font-size="34.0" text-anchor="middle" stroke-width="0.35">0,0</text><text x="1752.79" y="2141.29" font-size="34.0" text-anchor="middle" stroke-width="0.35">0,0</text><text x="1752.79" y="2190.72" font-size="34.0" text-anchor="middle" stroke-width="0.35">0,0</text><text x="1752.79" y="2240.14" font-size="34.0" text-anchor="middle" stroke-width="0.35">0,0</text><text x="1752.79" y="2289.96" font-size="34.0" text-anchor="middle" stroke-width="0.35">0,0</text><text x="1752.79" y="2339.50" font-size="34.0" text-anchor="middle" stroke-width="0.35">538,0</text><text x="1561.46" y="1303.81" font-size="34.0" text-anchor="middle" stroke-width="0.35">0,09</text><text x="1561.46" y="1353.32" font-size="34.0" text-anchor="middle" stroke-width="0.35">0,10</text><text x="1561.46" y="1404.12" font-size="34.0" text-anchor="middle" stroke-width="0.35">0,65</text><text x="1561.46" y="1452.31" font-size="34.0" text-anchor="middle" stroke-width="0.35">0,84</text><text x="1561.46" y="1501.81" font-size="34.0" text-anchor="middle" stroke-width="0.35">0,94</text><text x="1561.46" y="1551.29" font-size="34.0" text-anchor="middle" stroke-width="0.35">0,95</text><text x="1561.46" y="1600.08" font-size="34.0" text-anchor="middle" stroke-width="0.35">3,10</text><text x="1561.46" y="1649.56" font-size="34.0" text-anchor="middle" stroke-width="0.35">4,99</text><text x="1561.46" y="1698.63" font-size="34.0" text-anchor="middle" stroke-width="0.35">1,59</text><text x="1561.46" y="1747.70" font-size="34.0" text-anchor="middle" stroke-width="0.35">1,08</text><text x="1561.46" y="1796.66" font-size="34.0" text-anchor="middle" stroke-width="0.35">0,48</text><text x="1561.46" y="1845.42" font-size="34.0" text-anchor="middle" stroke-width="0.35">3,14</text><text x="1561.46" y="1895.58" font-size="34.0" text-anchor="middle" stroke-width="0.35">1,03</text><text x="1561.46" y="1944.33" font-size="34.0" text-anchor="middle" stroke-width="0.35">1,51</text><text x="1561.46" y="1994.18" font-size="34.0" text-anchor="middle" stroke-width="0.35">1,20</text><text x="1561.46" y="2042.82" font-size="34.0" text-anchor="middle" stroke-width="0.35">1,55</text><text x="1561.46" y="2091.56" font-size="34.0" text-anchor="middle" stroke-width="0.35">0,91</text><text x="1561.46" y="2141.29" font-size="34.0" text-anchor="middle" stroke-width="0.35">0,40</text><text x="1561.46" y="2190.72" font-size="34.0" text-anchor="middle" stroke-width="0.35">0,21</text><text x="1561.46" y="2240.14" font-size="34.0" text-anchor="middle" stroke-width="0.35">0,17</text><text x="1561.46" y="2289.96" font-size="34.0" text-anchor="middle" stroke-width="0.35">0,19</text><text x="1561.46" y="2339.50" font-size="34.0" text-anchor="middle" stroke-width="0.35">16,2</text><text x="1370.13" y="1303.81" font-size="34.0" text-anchor="middle" stroke-width="0.35">0,00</text><text x="1370.13" y="1353.32" font-size="34.0" text-anchor="middle" stroke-width="0.35">0,00</text><text x="1370.13" y="1404.12" font-size="34.0" text-anchor="middle" stroke-width="0.35">0,21</text><text x="1370.13" y="1452.31" font-size="34.0" text-anchor="middle" stroke-width="0.35">0,21</text><text x="1370.13" y="1501.81" font-size="34.0" text-anchor="middle" stroke-width="0.35">0,00</text><text x="1370.13" y="1551.29" font-size="34.0" text-anchor="middle" stroke-width="0.35">0,00</text><text x="1370.13" y="1600.08" font-size="34.0" text-anchor="middle" stroke-width="0.35">0,00</text><text x="1370.13" y="1649.56" font-size="34.0" text-anchor="middle" stroke-width="0.35">0,00</text><text x="1370.13" y="1698.63" font-size="34.0" text-anchor="middle" stroke-width="0.35">0,00</text><text x="1370.13" y="1747.70" font-size="34.0" text-anchor="middle" stroke-width="0.35">0,00</text><text x="1370.13" y="1796.66" font-size="34.0" text-anchor="middle" stroke-width="0.35">0,00</text><text x="1370.13" y="1845.42" font-size="34.0" text-anchor="middle" stroke-width="0.35">0,00</text><text x="1370.13" y="1895.58" font-size="34.0" text-anchor="middle" stroke-width="0.35">0,00</text><text x="1370.13" y="1944.33" font-size="34.0" text-anchor="middle" stroke-width="0.35">0,00</text><text x="1370.13" y="1994.18" font-size="34.0" text-anchor="middle" stroke-width="0.35">0,00</text><text x="1370.13" y="2042.82" font-size="34.0" text-anchor="middle" stroke-width="0.35">0,00</text><text x="1370.13" y="2091.56" font-size="34.0" text-anchor="middle" stroke-width="0.35">0,00</text><text x="1370.13" y="2141.29" font-size="34.0" text-anchor="middle" stroke-width="0.35">0,00</text><text x="1370.13" y="2190.72" font-size="34.0" text-anchor="middle" stroke-width="0.35">0,00</text><text x="1370.13" y="2240.14" font-size="34.0" text-anchor="middle" stroke-width="0.35">0,00</text><text x="1370.13" y="2289.96" font-size="34.0" text-anchor="middle" stroke-width="0.35">0,00</text><text x="1370.13" y="2339.50" font-size="34.0" text-anchor="middle" stroke-width="0.35">0,21</text><text x="1179.29" y="1303.81" font-size="34.0" text-anchor="middle" stroke-width="0.35">0,00</text><text x="1179.29" y="1353.32" font-size="34.0" text-anchor="middle" stroke-width="0.35">0,01</text><text x="1179.29" y="1404.12" font-size="34.0" text-anchor="middle" stroke-width="0.35">0,01</text><text x="1179.29" y="1452.31" font-size="34.0" text-anchor="middle" stroke-width="0.35">0,02</text><text x="1179.29" y="1501.81" font-size="34.0" text-anchor="middle" stroke-width="0.35">0,01</text><text x="1179.29" y="1551.29" font-size="34.0" text-anchor="middle" stroke-width="0.35">0,01</text><text x="1179.29" y="1600.08" font-size="34.0" text-anchor="middle" stroke-width="0.35">0,01</text><text x="1179.29" y="1649.56" font-size="34.0" text-anchor="middle" stroke-width="0.35">0,03</text><text x="1179.29" y="1698.63" font-size="34.0" text-anchor="middle" stroke-width="0.35">0,08</text><text x="1179.29" y="1747.70" font-size="34.0" text-anchor="middle" stroke-width="0.35">0,01</text><text x="1179.29" y="1796.66" font-size="34.0" text-anchor="middle" stroke-width="0.35">0,00</text><text x="1179.29" y="1845.42" font-size="34.0" text-anchor="middle" stroke-width="0.35">0,09</text><text x="1179.29" y="1895.58" font-size="34.0" text-anchor="middle" stroke-width="0.35">0,07</text><text x="1179.29" y="1944.33" font-size="34.0" text-anchor="middle" stroke-width="0.35">0,07</text><text x="1179.29" y="1994.18" font-size="34.0" text-anchor="middle" stroke-width="0.35">0,09</text><text x="1179.29" y="2042.82" font-size="34.0" text-anchor="middle" stroke-width="0.35">0,00</text><text x="1179.29" y="2091.56" font-size="34.0" text-anchor="middle" stroke-width="0.35">0,00</text><text x="1179.29" y="2141.29" font-size="34.0" text-anchor="middle" stroke-width="0.35">0,00</text><text x="1179.29" y="2190.72" font-size="34.0" text-anchor="middle" stroke-width="0.35">0,00</text><text x="1179.29" y="2240.14" font-size="34.0" text-anchor="middle" stroke-width="0.35">0,00</text><text x="1179.29" y="2289.96" font-size="34.0" text-anchor="middle" stroke-width="0.35">0,00</text><text x="1179.29" y="2339.50" font-size="34.0" text-anchor="middle" stroke-width="0.35">0,36</text><text x="988.95" y="1303.81" font-size="34.0" text-anchor="middle" stroke-width="0.35">3,6</text><text x="988.95" y="1353.32" font-size="34.0" text-anchor="middle" stroke-width="0.35">19,0</text><text x="988.95" y="1404.12" font-size="34.0" text-anchor="middle" stroke-width="0.35">8,4</text><text x="988.95" y="1452.31" font-size="34.0" text-anchor="middle" stroke-width="0.35">31,0</text><text x="988.95" y="1501.81" font-size="34.0" text-anchor="middle" stroke-width="0.35">11,1</text><text x="988.95" y="1551.29" font-size="34.0" text-anchor="middle" stroke-width="0.35">9,9</text><text x="988.95" y="1600.08" font-size="34.0" text-anchor="middle" stroke-width="0.35">8,9</text><text x="988.95" y="1649.56" font-size="34.0" text-anchor="middle" stroke-width="0.35">29,8</text><text x="988.95" y="1698.63" font-size="34.0" text-anchor="middle" stroke-width="0.35">79,6</text><text x="988.95" y="1747.70" font-size="34.0" text-anchor="middle" stroke-width="0.35">9,0</text><text x="988.95" y="1796.66" font-size="34.0" text-anchor="middle" stroke-width="0.35">3,1</text><text x="988.95" y="1845.42" font-size="34.0" text-anchor="middle" stroke-width="0.35">91,7</text><text x="988.95" y="1895.58" font-size="34.0" text-anchor="middle" stroke-width="0.35">64,5</text><text x="988.95" y="1944.33" font-size="34.0" text-anchor="middle" stroke-width="0.35">62,6</text><text x="988.95" y="1994.18" font-size="34.0" text-anchor="middle" stroke-width="0.35">81,2</text><text x="988.95" y="2042.82" font-size="34.0" text-anchor="middle" stroke-width="0.35">0,0</text><text x="988.95" y="2091.56" font-size="34.0" text-anchor="middle" stroke-width="0.35">0,0</text><text x="988.95" y="2141.29" font-size="34.0" text-anchor="middle" stroke-width="0.35">0,0</text><text x="988.95" y="2190.72" font-size="34.0" text-anchor="middle" stroke-width="0.35">0,0</text><text x="988.95" y="2240.14" font-size="34.0" text-anchor="middle" stroke-width="0.35">0,0</text><text x="988.95" y="2289.96" font-size="34.0" text-anchor="middle" stroke-width="0.35">0,0</text><text x="988.95" y="2339.50" font-size="34.0" text-anchor="middle" stroke-width="0.35">360,8</text><text x="798.10" y="1303.81" font-size="34.0" text-anchor="middle" stroke-width="0.35">0,086</text><text x="798.10" y="1353.32" font-size="34.0" text-anchor="middle" stroke-width="0.35">0,086</text><text x="798.10" y="1404.12" font-size="34.0" text-anchor="middle" stroke-width="0.35">0,43</text><text x="798.10" y="1452.31" font-size="34.0" text-anchor="middle" stroke-width="0.35">0,60</text><text x="798.10" y="1501.81" font-size="34.0" text-anchor="middle" stroke-width="0.35">0,93</text><text x="798.10" y="1551.29" font-size="34.0" text-anchor="middle" stroke-width="0.35">0,94</text><text x="798.10" y="1600.08" font-size="34.0" text-anchor="middle" stroke-width="0.35">3,09</text><text x="798.10" y="1649.56" font-size="34.0" text-anchor="middle" stroke-width="0.35">4,96</text><text x="798.10" y="1698.63" font-size="34.0" text-anchor="middle" stroke-width="0.35">1,50</text><text x="798.10" y="1747.70" font-size="34.0" text-anchor="middle" stroke-width="0.35">1,07</text><text x="798.10" y="1796.66" font-size="34.0" text-anchor="middle" stroke-width="0.35">0,48</text><text x="798.10" y="1845.42" font-size="34.0" text-anchor="middle" stroke-width="0.35">3,05</text><text x="798.10" y="1895.58" font-size="34.0" text-anchor="middle" stroke-width="0.35">0,96</text><text x="798.10" y="1944.33" font-size="34.0" text-anchor="middle" stroke-width="0.35">1,45</text><text x="798.10" y="1994.18" font-size="34.0" text-anchor="middle" stroke-width="0.35">1,11</text><text x="798.10" y="2042.82" font-size="34.0" text-anchor="middle" stroke-width="0.35">1,55</text><text x="798.10" y="2091.56" font-size="34.0" text-anchor="middle" stroke-width="0.35">0,91</text><text x="798.10" y="2141.29" font-size="34.0" text-anchor="middle" stroke-width="0.35">0,40</text><text x="798.10" y="2190.72" font-size="34.0" text-anchor="middle" stroke-width="0.35">0,21</text><text x="798.10" y="2240.14" font-size="34.0" text-anchor="middle" stroke-width="0.35">0,17</text><text x="798.10" y="2289.96" font-size="34.0" text-anchor="middle" stroke-width="0.35">0,19</text><text x="798.10" y="2339.50" font-size="34.0" text-anchor="middle" stroke-width="0.35">15,6</text><text x="606.75" y="1303.81" font-size="34.0" text-anchor="middle" stroke-width="0.35">0,10</text><text x="606.75" y="1353.32" font-size="34.0" text-anchor="middle" stroke-width="0.35">0,10</text><text x="606.75" y="1404.12" font-size="34.0" text-anchor="middle" stroke-width="0.35">0,50</text><text x="606.75" y="1452.31" font-size="34.0" text-anchor="middle" stroke-width="0.35">0,23</text><text x="606.75" y="1501.81" font-size="34.0" text-anchor="middle" stroke-width="0.35">1,08</text><text x="606.75" y="1551.29" font-size="34.0" text-anchor="middle" stroke-width="0.35">1,09</text><text x="606.75" y="1600.08" font-size="34.0" text-anchor="middle" stroke-width="0.35">3,25</text><text x="606.75" y="1649.56" font-size="34.0" text-anchor="middle" stroke-width="0.35">1,85</text><text x="606.75" y="1698.63" font-size="34.0" text-anchor="middle" stroke-width="0.35">1,74</text><text x="606.75" y="1747.70" font-size="34.0" text-anchor="middle" stroke-width="0.35">1,24</text><text x="606.75" y="1796.66" font-size="34.0" text-anchor="middle" stroke-width="0.35">0,55</text><text x="606.75" y="1845.42" font-size="34.0" text-anchor="middle" stroke-width="0.35">1,18</text><text x="606.75" y="1895.58" font-size="34.0" text-anchor="middle" stroke-width="0.35">0,36</text><text x="606.75" y="1944.33" font-size="34.0" text-anchor="middle" stroke-width="0.35">0,54</text><text x="606.75" y="1994.18" font-size="34.0" text-anchor="middle" stroke-width="0.35">0,43</text><text x="606.75" y="2042.82" font-size="34.0" text-anchor="middle" stroke-width="0.35">0,58</text><text x="606.75" y="2091.56" font-size="34.0" text-anchor="middle" stroke-width="0.35">0,35</text><text x="606.75" y="2141.29" font-size="34.0" text-anchor="middle" stroke-width="0.35">0,15</text><text x="606.75" y="2190.72" font-size="34.0" text-anchor="middle" stroke-width="0.35">0,080</text><text x="606.75" y="2240.14" font-size="34.0" text-anchor="middle" stroke-width="0.35">0,070</text><text x="606.75" y="2289.96" font-size="34.0" text-anchor="middle" stroke-width="0.35">0,070</text><text x="606.75" y="2339.50" font-size="34.0" text-anchor="middle" stroke-width="0.35">0,49</text><text x="220.00" y="1254.10" font-size="34.0" stroke-width="0.80">Апрель (начало)</text><text x="220.00" y="1303.81" font-size="34.0" stroke-width="0.80">Апрель (1 декада)</text><text x="220.00" y="1353.32" font-size="34.0" stroke-width="0.80">Апрель (2 декада)</text><text x="220.00" y="1404.12" font-size="34.0" stroke-width="0.80">Апрель (3 декада)</text><text x="220.00" y="1452.31" font-size="34.0" stroke-width="0.80">Апрель (итог)</text><text x="220.00" y="1501.81" font-size="34.0" stroke-width="0.80">Май (1 декада)</text><text x="220.00" y="1551.29" font-size="34.0" stroke-width="0.80">Май (2 декада)</text><text x="220.00" y="1600.08" font-size="34.0" stroke-width="0.80">Май (3 декада)</text><text x="220.00" y="1649.56" font-size="34.0" stroke-width="0.80">Май (итог)</text><text x="220.00" y="1698.63" font-size="34.0" stroke-width="0.80">Июнь (1 декада)</text><text x="220.00" y="1747.70" font-size="34.0" stroke-width="0.80">Июнь (2 декада)</text><text x="220.00" y="1796.66" font-size="34.0" stroke-width="0.80">Июнь (3 декада)</text><text x="220.00" y="1845.42" font-size="34.0" stroke-width="0.80">Июнь (итог)</text><text x="220.00" y="1895.58" font-size="34.0" stroke-width="0.80">Июль</text><text x="220.00" y="1944.33" font-size="34.0" stroke-width="0.80">Август</text><text x="220.00" y="1994.18" font-size="34.0" stroke-width="0.80">Сентябрь</text><text x="220.00" y="2042.82" font-size="34.0" stroke-width="0.80">Октябрь</text><text x="220.00" y="2091.56" font-size="34.0" stroke-width="0.80">Ноябрь</text><text x="220.00" y="2141.29" font-size="34.0" stroke-width="0.80">Декабрь</text><text x="220.00" y="2190.72" font-size="34.0" stroke-width="0.80">Январь</text><text x="220.00" y="2240.14" font-size="34.0" stroke-width="0.80">Февраль</text><text x="220.00" y="2289.96" font-size="34.0" stroke-width="0.80">Март</text><text x="220.00" y="2339.50" font-size="34.0" stroke-width="0.80">Год</text><text x="355.66" y="770.70" font-size="34.3" text-anchor="middle" stroke-width="0.70">Месяц</text><text x="1084.35" y="345.68" font-size="34.3" text-anchor="middle" stroke-width="0.70">ПРИХОДНАЯ ЧАСТЬ</text><text x="2516.47" y="345.68" font-size="34.3" text-anchor="middle" stroke-width="0.70">РАСХОДНАЯ ЧАСТЬ</text><text x="3949.33" y="345.68" font-size="34.3" text-anchor="middle" stroke-width="0.70">ВОДОХРАНИЛИЩЕ</text><text x="4716.55" y="392.91" font-size="34.3" text-anchor="middle" stroke-width="0.70">Сброс в Нижне-</text><text x="4716.55" y="432.02" font-size="34.3" text-anchor="middle" stroke-width="0.70">Качканарское</text><text x="4716.55" y="471.12" font-size="34.3" text-anchor="middle" stroke-width="0.70">водохранилище</text><text x="4812.91" y="891.06" font-size="34.3" text-anchor="middle" stroke-width="0.70" font-weight="bold">м<tspan dy="-3.5">³</tspan><tspan dy="3.5">/с</tspan></text><text x="4619.46" y="891.06" font-size="34.3" text-anchor="middle" stroke-width="0.70" font-weight="bold">млн. м<tspan dy="-3.5">³</tspan></text><text x="988.43" y="412.09" font-size="34.3" text-anchor="middle" stroke-width="0.70">Приток в водохранилище</text><text x="702.67" y="552.57" font-size="34.3" text-anchor="middle" stroke-width="0.70">Приточность</text><text x="1084.37" y="552.57" font-size="34.3" text-anchor="middle" stroke-width="0.70">Осадки на зеркало</text><text x="1847.70" y="554.48" font-size="34.3" text-anchor="middle" stroke-width="0.70">Испарение с водной</text><text x="1847.70" y="593.58" font-size="34.3" text-anchor="middle" stroke-width="0.70">поверхности</text><text x="2229.82" y="554.48" font-size="34.3" text-anchor="middle" stroke-width="0.70">Временные потери</text><text x="2229.82" y="593.58" font-size="34.3" text-anchor="middle" stroke-width="0.70">на ледообразование</text><g transform="translate(606.75,933.54) rotate(-90)"><text x="0" y="22.66" font-size="34.3" text-anchor="middle" stroke-width="0.70">Расход воды, м<tspan dy="-3.5">³</tspan><tspan dy="3.5">/с</tspan></text></g><g transform="translate(798.10,933.54) rotate(-90)"><text x="0" y="22.66" font-size="34.3" text-anchor="middle" stroke-width="0.70">Объем, млн. м<tspan dy="-3.5">³</tspan></text></g><g transform="translate(988.95,933.54) rotate(-90)"><text x="0" y="22.66" font-size="34.3" text-anchor="middle" stroke-width="0.70">Слой, мм</text></g><g transform="translate(1179.29,933.54) rotate(-90)"><text x="0" y="22.66" font-size="34.3" text-anchor="middle" stroke-width="0.70">Объем, млн. м<tspan dy="-3.5">³</tspan></text></g><g transform="translate(1370.13,825.46) rotate(-90)"><text x="0" y="3.11" font-size="34.3" text-anchor="middle" stroke-width="0.70">Возврат воды в результате таяния льда весной,</text><text x="0" y="42.21" font-size="34.3" text-anchor="middle" stroke-width="0.70">млн. м<tspan dy="-3.5">³</tspan></text></g><g transform="translate(1561.46,793.06) rotate(-90)"><text x="0" y="22.66" font-size="34.3" text-anchor="middle" stroke-width="0.70">Итого приток, млн. м<tspan dy="-3.5">³</tspan></text></g><g transform="translate(1752.79,987.40) rotate(-90)"><text x="0" y="22.66" font-size="34.3" text-anchor="middle" stroke-width="0.70">Слой, мм</text></g><g transform="translate(1943.11,987.40) rotate(-90)"><text x="0" y="22.66" font-size="34.3" text-anchor="middle" stroke-width="0.70">Объем, млн. м<tspan dy="-3.5">³</tspan></text></g><g transform="translate(2133.92,987.40) rotate(-90)"><text x="0" y="22.66" font-size="34.3" text-anchor="middle" stroke-width="0.70">Толщина слоя льда, м</text></g><g transform="translate(2325.73,987.40) rotate(-90)"><text x="0" y="22.66" font-size="34.3" text-anchor="middle" stroke-width="0.70">Объем, млн. м<tspan dy="-3.5">³</tspan></text></g><g transform="translate(2516.03,793.06) rotate(-90)"><text x="0" y="22.66" font-size="34.3" text-anchor="middle" stroke-width="0.70">Санитарный попуск, млн. м<tspan dy="-3.5">³</tspan></text></g><g transform="translate(2706.33,793.06) rotate(-90)"><text x="0" y="22.66" font-size="34.3" text-anchor="middle" stroke-width="0.70">Фильтрация, млн. м<tspan dy="-3.5">³</tspan></text></g><g transform="translate(2897.62,793.06) rotate(-90)"><text x="0" y="3.11" font-size="34.3" text-anchor="middle" stroke-width="0.70">Питьевое и хозяйственно-бытовое</text><text x="0" y="42.21" font-size="34.3" text-anchor="middle" stroke-width="0.70">водоснабжение, млн. м<tspan dy="-3.5">³</tspan></text></g><g transform="translate(3087.90,793.06) rotate(-90)"><text x="0" y="22.66" font-size="34.3" text-anchor="middle" stroke-width="0.70">Промышленное водоснабжение, млн. м<tspan dy="-3.5">³</tspan></text></g><g transform="translate(3279.18,793.06) rotate(-90)"><text x="0" y="22.66" font-size="34.3" text-anchor="middle" stroke-width="0.70">Итого расход, млн. м<tspan dy="-3.5">³</tspan></text></g><g transform="translate(3470.95,793.06) rotate(-90)"><text x="0" y="22.66" font-size="34.3" text-anchor="middle" stroke-width="0.70">Холостой сброс, млн. м<tspan dy="-3.5">³</tspan></text></g><g transform="translate(3660.72,793.06) rotate(-90)"><text x="0" y="22.66" font-size="34.3" text-anchor="middle" stroke-width="0.70">Объем, млн. м<tspan dy="-3.5">³</tspan></text></g><g transform="translate(3850.48,793.06) rotate(-90)"><text x="0" y="22.66" font-size="34.3" text-anchor="middle" stroke-width="0.70">Изменение объема, млн. м<tspan dy="-3.5">³</tspan></text></g><g transform="translate(4041.24,793.06) rotate(-90)"><text x="0" y="22.66" font-size="34.3" text-anchor="middle" stroke-width="0.70">Отметка уровня воды, м</text></g><g transform="translate(4232.24,793.06) rotate(-90)"><text x="0" y="22.66" font-size="34.3" text-anchor="middle" stroke-width="0.70">Наполнение (+)/сработка (-), м</text></g><g transform="translate(4425.48,793.06) rotate(-90)"><text x="0" y="22.66" font-size="34.3" text-anchor="middle" stroke-width="0.70">Площадь зеркала, км<tspan dy="-3.5">²</tspan></text></g><text x="2551.33" y="232.33" font-size="51" text-anchor="middle" stroke-width="0.5">1952/53 водохозяйственный год</text><text x="2546.72" y="113.51" font-size="50" text-anchor="middle" stroke-width="0.4">2</text></g></svg></div><svg width="3513" height="5040" style="position:absolute;left:0;top:0"><g fill="#000"><polygon points="0,0 3513,0 3513,1.5 1500,5 0,9"/><polygon points="0,0 2,0 6,2520 12.7,5040 0,5040"/><polygon points="3497,0 3513,0 3513,5040 3507.4,5040 3502,2520"/><polygon points="1200,5040 3513,5029 3513,5040"/></g></svg></body></html>
